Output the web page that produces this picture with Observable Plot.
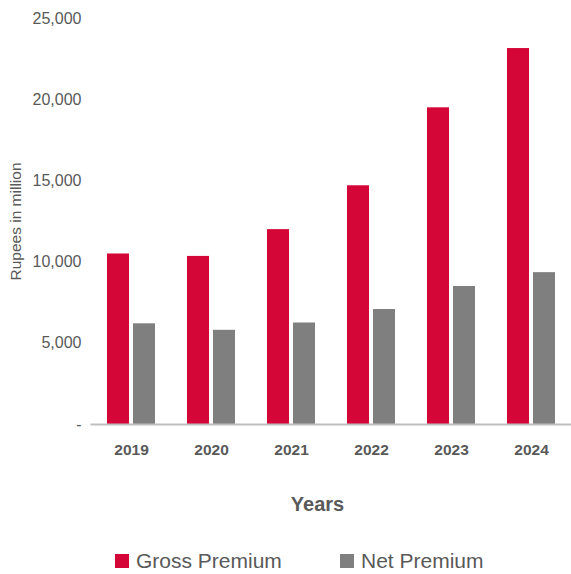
<!DOCTYPE html>
<html>
<head>
<meta charset="utf-8">
<script src="https://cdn.jsdelivr.net/npm/d3@7"></script>
<script src="https://cdn.jsdelivr.net/npm/@observablehq/plot@0.6"></script>
<style>
  html, body { margin: 0; padding: 0; background: #fff; }
  body { width: 571px; height: 574px; position: relative; font-family: "Liberation Sans", Arial, sans-serif; overflow: hidden; }
  #chart { position: absolute; left: 0; top: 0; }
  #legend { position: absolute; left: 0; top: 548px; width: 571px; height: 26px; color: #595959; font-size: 21px; }
  .item { position: absolute; top: 0; display: flex; align-items: center; height: 26px; }
  .sw { width: 14px; height: 14px; margin-right: 7px; }
</style>
</head>
<body>
<div id="chart"></div>
<div id="legend"></div>
<script>
const years = ["2019", "2020", "2021", "2022", "2023", "2024"];
const seriesNames = ["Gross Premium", "Net Premium"];
const grossPremium = [10500, 10350, 12000, 14700, 19500, 23150];
const netPremium = [6200, 5800, 6250, 7080, 8500, 9350];
const colors = ["#D30637", "#7F7F7F"];

const rows = [];
years.forEach((y, i) => {
  rows.push({year: y, series: seriesNames[0], value: grossPremium[i]});
  rows.push({year: y, series: seriesNames[1], value: netPremium[i]});
});

const chart = Plot.plot({
  width: 571,
  height: 540,
  marginTop: 18,
  marginBottom: 116,
  marginLeft: 106,
  marginRight: 16,
  style: {fontFamily: "'Liberation Sans', Arial, sans-serif", color: "#595959", background: "#fff"},
  fx: {domain: years, paddingInner: 0.4, paddingOuter: 0, label: null},
  x: {domain: seriesNames, paddingInner: 0.16, paddingOuter: 0, axis: null},
  y: {domain: [0, 25000], label: null},
  color: {domain: seriesNames, range: colors},
  marks: [
    Plot.axisY({
      ticks: d3.range(0, 25001, 5000),
      tickSize: 0,
      tickPadding: 26,
      fontSize: 16,
      tickFormat: d => d === 0 ? "-" : d3.format(",")(d),
      label: null
    }),
    Plot.text(["Rupees in million"], {
      frameAnchor: "left", textAnchor: "middle", dx: -91, dy: 0, rotate: -90, fontSize: 15.5, fill: "#595959", facet: "super"
    }),
    Plot.axisFx({
      anchor: "bottom",
      tickSize: 0,
      tickPadding: 19,
      fontSize: 15.5,
      fontWeight: "bold",
      label: null
    }),
    Plot.barY(rows, {fx: "year", x: "series", y: "value", fill: "series"}),
    Plot.frame({anchor: "bottom", stroke: "#BFBFBF", strokeWidth: 2, insetLeft: -16, insetRight: -16, facet: "super"}),
    Plot.text(["Years"], {
      frameAnchor: "bottom", dx: -14, dy: 86, fontSize: 20, fontWeight: "bold", fill: "#595959", facet: "super"
    })
  ]
});
document.getElementById("chart").appendChild(chart);

const legend = document.getElementById("legend");
const lx = [115, 340];
seriesNames.forEach((s, i) => {
  const it = document.createElement("div");
  it.className = "item";
  it.style.left = lx[i] + "px";
  const sw = document.createElement("div");
  sw.className = "sw";
  sw.style.background = colors[i];
  it.appendChild(sw);
  const t = document.createElement("span");
  t.textContent = s;
  it.appendChild(t);
  legend.appendChild(it);
});
</script>
</body>
</html>
